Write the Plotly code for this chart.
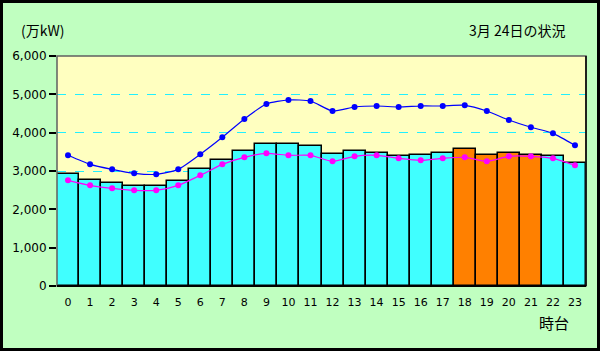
import plotly.graph_objects as go

hours = list(range(24))
hour_labels = [str(h) for h in hours]
demand_bars = [2930, 2775, 2700, 2610, 2610, 2740, 3060, 3295, 3530, 3705, 3705, 3660,
               3455, 3530, 3480, 3400, 3425, 3480, 3580, 3425, 3480, 3425, 3400, 3215]
peak_hours = [18, 19, 20, 21]
capacity = [3409, 3174, 3043, 2940, 2913, 3043, 3435, 3878, 4357, 4748, 4852, 4826,
            4565, 4670, 4696, 4670, 4696, 4696, 4713, 4565, 4330, 4140, 3983, 3670]
forecast = [2757, 2626, 2548, 2496, 2496, 2626, 2887, 3174, 3357, 3461, 3409, 3409,
            3252, 3383, 3409, 3330, 3278, 3330, 3357, 3252, 3383, 3383, 3330, 3148]
y_ticks = [0, 1000, 2000, 3000, 4000, 5000, 6000]
y_labels = ["0", "1,000", "2,000", "3,000", "4,000", "5,000", "6,000"]

bar_colors = ["#FF8000" if h in peak_hours else "#40FFFF" for h in hours]

L, R, T, B = 57, 14, 56, 65
W, H = 600, 351
pw, ph = W - L - R, H - T - B

fig = go.Figure()
fig.add_trace(go.Bar(x=hours, y=demand_bars, width=1, marker=dict(color=bar_colors,
                     line=dict(color="black", width=1.5)), showlegend=False))
fig.add_trace(go.Scatter(x=hours, y=capacity, mode="lines+markers", line=dict(color="#0000FF", width=1.2, shape="spline", smoothing=0.6),
                         marker=dict(color="#0000FF", size=6), showlegend=False))
fig.add_trace(go.Scatter(x=hours, y=forecast, mode="lines+markers", line=dict(color="#FF00FF", width=1.2, shape="spline", smoothing=0.6),
                         marker=dict(color="#FF00FF", size=6), showlegend=False))

def px_x(x):
    return (x - L) / pw

def px_y(y):
    return (H - B - y) / ph

font = dict(family="Noto Sans CJK JP, DejaVu Sans, sans-serif", size=12, color="black")

fig.update_layout(
    width=W, height=H,
    margin=dict(l=L, r=R, t=T, b=B, pad=0),
    paper_bgcolor="#C0FFC0",
    plot_bgcolor="#FFFFC0",
    font=font,
    bargap=0,
    xaxis=dict(range=[-0.5, 23.5], tickmode="array", tickvals=hours, ticktext=hour_labels,
               showgrid=False, zeroline=False, ticks="", showline=False,
               tickfont=dict(family="DejaVu Sans, sans-serif", size=11, color="black"), ticklabelstandoff=8),
    yaxis=dict(range=[0, 6000], tickmode="array", tickvals=y_ticks, ticktext=y_labels,
               showgrid=True, gridcolor="#20F0FF", griddash="dash", gridwidth=1,
               zeroline=False, ticks="outside", ticklen=7, tickcolor="black", tickwidth=1.5,
               showline=False, tickfont=dict(family="DejaVu Sans, sans-serif", size=12, color="black")),
    shapes=[
        dict(type="rect", xref="paper", yref="paper", x0=0, x1=1, y0=0, y1=1,
             line=dict(color="#606060", width=1.5), layer="above"),
        dict(type="line", xref="paper", yref="paper", x0=1, x1=1, y0=0, y1=1,
             line=dict(color="black", width=1.5), layer="above"),
        dict(type="line", xref="paper", yref="paper", x0=0, x1=1, y0=0, y1=0,
             line=dict(color="black", width=2), layer="above"),
        dict(type="rect", xref="paper", yref="paper",
             x0=px_x(1.5), x1=px_x(598.5), y0=px_y(349.5), y1=px_y(1.5),
             line=dict(color="black", width=3), layer="above"),
    ],
    annotations=[
        dict(text="(万kW)", xref="paper", yref="paper", x=px_x(19), y=px_y(30),
             xanchor="left", yanchor="middle", showarrow=False, font=dict(size=14)),
        dict(text="3月 24日の状況", xref="paper", yref="paper", x=px_x(567), y=px_y(30),
             xanchor="right", yanchor="middle", showarrow=False, font=dict(size=14)),
        dict(text="時台", xref="paper", yref="paper", x=px_x(554), y=px_y(322),
             xanchor="center", yanchor="middle", showarrow=False, font=dict(size=15)),
    ],
)

fig.write_html("out.html")
